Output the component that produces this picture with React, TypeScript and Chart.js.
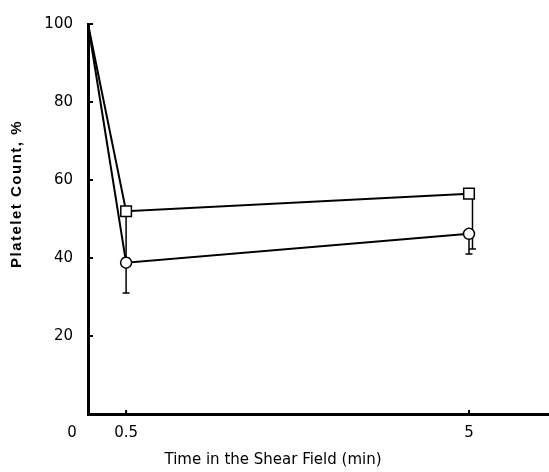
import React, { useEffect, useRef } from 'react';
import { Chart, registerables } from 'chart.js';

Chart.register(...registerables);

// ---- data ----
const times = [0, 0.5, 5];
const xTickValues = [0, 0.5, 5];
const yTickValues = [20, 40, 60, 80, 100];
const squareSeries = [100, 52, 56.5];
const squareLower = [null, 40, 42.3];
const circleSeries = [100, 38.8, 46.2];
const circleLower = [null, 31, 41];
const xTitle = 'Time in the Shear Field (min)';
const yTitle = 'Platelet Count, %';

// horizontal pixel nudges so overlapping error bars stay visible (style only)
const errorSets = [
  { values: squareSeries, lower: squareLower, nudge: [0, 0, 3.5] },
  { values: circleSeries, lower: circleLower, nudge: [0, 0, 0] },
];

const decorPlugin = {
  id: 'decor',
  beforeDatasetsDraw(chart: any) {
    const { ctx, scales } = chart;
    const x = scales.x;
    const y = scales.y;
    ctx.save();
    ctx.strokeStyle = '#000';
    ctx.lineWidth = 1.5;
    errorSets.forEach((set) => {
      set.values.forEach((v, i) => {
        const lo = set.lower[i];
        if (lo == null) return;
        const px = x.getPixelForValue(times[i]) + set.nudge[i];
        const py = y.getPixelForValue(v);
        const pl = y.getPixelForValue(lo);
        ctx.beginPath();
        ctx.moveTo(px, py);
        ctx.lineTo(px, pl);
        ctx.moveTo(px - 3.5, pl);
        ctx.lineTo(px + 3.5, pl);
        ctx.stroke();
      });
    });
    ctx.restore();
  },
  afterDraw(chart: any) {
    const { ctx, scales, chartArea } = chart;
    const x = scales.x;
    const y = scales.y;
    ctx.save();
    ctx.strokeStyle = '#000';
    ctx.lineWidth = 2;
    // inward ticks on y axis
    yTickValues.forEach((v) => {
      const py = y.getPixelForValue(v);
      ctx.beginPath();
      ctx.moveTo(chartArea.left, py);
      ctx.lineTo(chartArea.left + 5, py);
      ctx.stroke();
    });
    // inward ticks on x axis
    xTickValues.forEach((v) => {
      if (v === 0) return;
      const px = x.getPixelForValue(v);
      ctx.beginPath();
      ctx.moveTo(px, chartArea.bottom);
      ctx.lineTo(px, chartArea.bottom - 4);
      ctx.stroke();
    });
    // the "0" label sits left of the corner
    ctx.fillStyle = '#000';
    ctx.font = '15px "DejaVu Sans"';
    ctx.textAlign = 'center';
    ctx.textBaseline = 'middle';
    ctx.fillText('0', x.getPixelForValue(0) - 16, chartArea.bottom + 19);
    // x title
    ctx.font = '15px "DejaVu Sans"';
    ctx.fillText(xTitle, 273, chartArea.bottom + 46);
    // y title
    ctx.save();
    ctx.translate(17, 194);
    ctx.rotate(-Math.PI / 2);
    ctx.font = 'bold 15px "Liberation Sans"';
    (ctx as any).letterSpacing = '1.5px';
    ctx.fillText(yTitle, 0, 0);
    ctx.restore();
    ctx.restore();
  },
};

export default function App() {
  const ref = useRef<HTMLCanvasElement | null>(null);
  useEffect(() => {
    if (!ref.current) return;
    const chart = new Chart(ref.current, {
      type: 'line',
      data: {
        labels: times,
        datasets: [
          {
            label: 'square',
            data: times.map((t, i) => ({ x: t, y: squareSeries[i] })),
            borderColor: '#000',
            borderWidth: 2,
            backgroundColor: '#fff',
            pointStyle: 'rect',
            pointRadius: [0, 7.5, 7.5],
            pointBorderWidth: 1.5,
            pointBackgroundColor: '#fff',
            pointBorderColor: '#000',
            tension: 0,
            clip: false as any,
          },
          {
            label: 'circle',
            data: times.map((t, i) => ({ x: t, y: circleSeries[i] })),
            borderColor: '#000',
            borderWidth: 2,
            backgroundColor: '#fff',
            pointStyle: 'circle',
            pointRadius: [0, 5.5, 5.5],
            pointBorderWidth: 1.5,
            pointBackgroundColor: '#fff',
            pointBorderColor: '#000',
            tension: 0,
            clip: false as any,
          },
        ],
      },
      options: {
        animation: false,
        responsive: false,
        devicePixelRatio: 1,
        layout: { autoPadding: false, padding: { top: 22, right: 0, left: 0, bottom: 0 } },
        plugins: { legend: { display: false }, tooltip: { enabled: false } },
        scales: {
          x: {
            type: 'linear',
            min: 0,
            max: 6.05,
            afterBuildTicks: (s: any) => {
              s.ticks = xTickValues.map((v) => ({ value: v }));
            },
            afterFit: (s: any) => {
              s.height = 58;
              s.paddingLeft = 0;
              s.paddingRight = 0;
            },
            grid: { display: false, drawTicks: false },
            border: { display: true, color: '#000', width: 3 },
            ticks: {
              autoSkip: false,
              maxRotation: 0,
              padding: 10,
              color: '#000',
              font: { family: 'DejaVu Sans', size: 15 },
              callback: (v: any) => (v === 0 ? '' : String(v)),
            },
          },
          y: {
            type: 'linear',
            min: 0,
            max: 100,
            afterBuildTicks: (s: any) => {
              s.ticks = yTickValues.map((v) => ({ value: v }));
            },
            afterFit: (s: any) => {
              s.width = 88;
            },
            grid: { display: false, drawTicks: false },
            border: { display: true, color: '#000', width: 3 },
            ticks: {
              autoSkip: false,
              padding: 15,
              color: '#000',
              font: { family: 'DejaVu Sans', size: 15 },
            },
          },
        },
      },
      plugins: [decorPlugin],
    });
    return () => chart.destroy();
  }, []);
  return (
    <div style={{ position: 'absolute', left: 0, top: 0, width: 549, height: 472, background: '#fff' }}>
      <canvas ref={ref} width={549} height={472} style={{ width: 549, height: 472 }} />
    </div>
  );
}
